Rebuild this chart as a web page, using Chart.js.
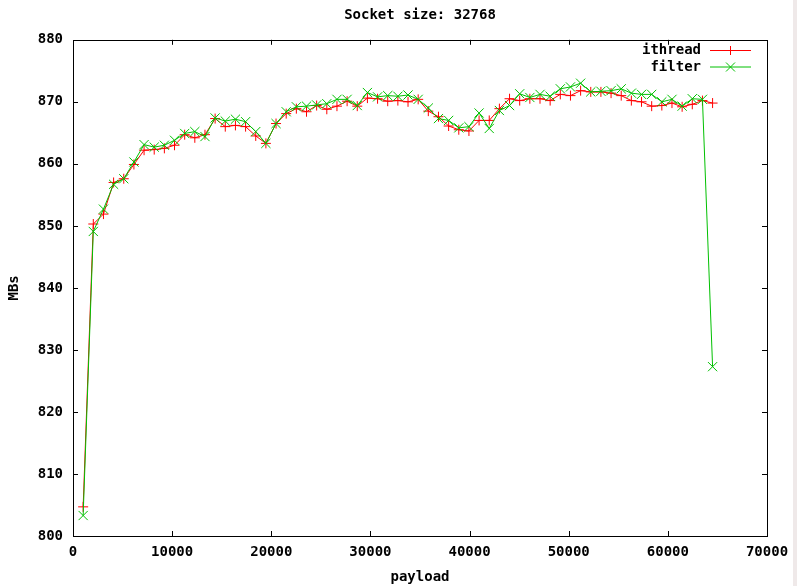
<!DOCTYPE html>
<html>
<head>
<meta charset="utf-8">
<script src="https://cdn.jsdelivr.net/npm/chart.js@4"></script>
<style>
  body { margin: 0; background: #efe9e9; }
  #wrap { width: 793px; height: 586px; background: #fff; }
</style>
</head>
<body>
<div id="wrap"><canvas id="chart" width="793" height="586"></canvas></div>
<script>
// payload sizes (bytes)
const payload = [
  1024, 2048, 3072, 4096, 5120, 6144, 7168, 8192, 9216, 10240,
  11264, 12288, 13312, 14336, 15360, 16384, 17408, 18432, 19456, 20480,
  21504, 22528, 23552, 24576, 25600, 26624, 27648, 28672, 29696, 30720,
  31744, 32768, 33792, 34816, 35840, 36864, 37888, 38912, 39936, 40960,
  41984, 43008, 44032, 45056, 46080, 47104, 48128, 49152, 50176, 51200,
  52224, 53248, 54272, 55296, 56320, 57344, 58368, 59392, 60416, 61440,
  62464, 63488, 64512
];

const ithread = [
  804.7, 850.3, 851.9, 857.0, 857.6, 859.9, 862.2, 862.3, 862.5, 863.0,
  864.7, 864.2, 864.7, 867.3, 866.0, 866.2, 866.0, 864.5, 863.3, 866.5,
  868.1, 868.9, 868.4, 869.4, 868.8, 869.3, 870.1, 869.3, 870.6, 870.5,
  870.1, 870.2, 870.0, 870.4, 868.5, 867.6, 866.1, 865.5, 865.3, 867.0,
  867.0, 868.9, 870.5, 870.2, 870.5, 870.5, 870.2, 871.2, 871.0, 871.8,
  871.6, 871.6, 871.4, 871.0, 870.2, 870.0, 869.3, 869.4, 869.8, 869.2,
  869.6, 870.2, 869.8
];

const filter = [
  803.3, 849.1, 852.7, 856.7, 857.6, 860.3, 863.1, 862.7, 863.0, 863.8,
  864.9, 865.2, 864.4, 867.4, 866.9, 867.2, 866.8, 865.2, 863.3, 866.5,
  868.4, 869.2, 869.3, 869.5, 869.7, 870.4, 870.4, 869.4, 871.5, 870.8,
  871.0, 870.9, 871.1, 870.4, 869.0, 867.3, 867.0, 865.8, 866.0, 868.2,
  865.7, 868.6, 869.4, 871.3, 870.7, 871.2, 870.9, 872.1, 872.4, 873.0,
  871.6, 871.7, 871.8, 872.1, 871.4, 871.2, 871.2, 870.0, 870.4, 869.3,
  870.5, 870.4, 827.3
];

const FONT = '"DejaVu Sans Mono", "Liberation Mono", monospace';

function pts(ys) {
  return payload.map((x, i) => ({ x: x, y: ys[i] }));
}

// gnuplot style frame: full border + inward ticks on every side
const frame = {
  id: 'frame',
  afterDraw(chart) {
    const { ctx, chartArea: a, scales: { x, y } } = chart;
    ctx.save();
    ctx.strokeStyle = '#000';
    ctx.lineWidth = 1;
    ctx.beginPath();
    x.ticks.forEach(t => {
      const px = Math.round(x.getPixelForValue(t.value)) + 0.5;
      if (px <= a.left + 1 || px >= a.right - 1) return;
      ctx.moveTo(px, a.bottom); ctx.lineTo(px, a.bottom - 5);
      ctx.moveTo(px, a.top); ctx.lineTo(px, a.top + 5);
    });
    y.ticks.forEach(t => {
      const py = Math.round(y.getPixelForValue(t.value)) + 0.5;
      if (py <= a.top + 1 || py >= a.bottom - 1) return;
      ctx.moveTo(a.left, py); ctx.lineTo(a.left + 5, py);
      ctx.moveTo(a.right, py); ctx.lineTo(a.right - 5, py);
    });
    ctx.stroke();
    ctx.strokeRect(Math.round(a.left) + 0.5, Math.round(a.top) + 0.5,
      Math.round(a.right - a.left), Math.round(a.bottom - a.top));
    ctx.restore();
  }
};

// key in the top right corner, text left of the sample
const key = {
  id: 'key',
  afterDraw(chart) {
    const { ctx } = chart;
    ctx.save();
    ctx.font = 'bold 14px ' + FONT;
    ctx.textAlign = 'right';
    ctx.textBaseline = 'middle';
    chart.data.datasets.forEach((ds, i) => {
      const yy = 50.5 + i * 16.5;
      ctx.fillStyle = '#000';
      ctx.fillText(ds.label, 701, yy);
      ctx.strokeStyle = ds.borderColor;
      ctx.lineWidth = 1;
      ctx.beginPath();
      ctx.moveTo(710, yy); ctx.lineTo(751, yy);
      const r = 4.5, cx = 730.5;
      if (ds.pointStyle === 'cross') {
        ctx.moveTo(cx, yy - r); ctx.lineTo(cx, yy + r);
      } else {
        ctx.moveTo(cx - r, yy - r); ctx.lineTo(cx + r, yy + r);
        ctx.moveTo(cx - r, yy + r); ctx.lineTo(cx + r, yy - r);
      }
      ctx.stroke();
    });
    ctx.restore();
  }
};

new Chart(document.getElementById('chart'), {
  type: 'line',
  data: {
    datasets: [
      {
        label: 'ithread',
        data: pts(ithread),
        borderColor: '#ff0000',
        backgroundColor: '#ff0000',
        borderWidth: 1,
        pointStyle: 'cross',
        pointRadius: 5,
        pointBorderWidth: 1,
        tension: 0,
        fill: false,
        order: 1
      },
      {
        label: 'filter',
        data: pts(filter),
        borderColor: '#00c000',
        backgroundColor: '#00c000',
        borderWidth: 1,
        pointStyle: 'crossRot',
        pointRadius: 6.5,
        pointBorderWidth: 1,
        tension: 0,
        fill: false,
        order: 0
      }
    ]
  },
  options: {
    responsive: false,
    animation: false,
    layout: { padding: { left: 0, right: 26, top: 0, bottom: 0 } },
    plugins: {
      legend: { display: false },
      tooltip: { enabled: false },
      title: {
        display: true,
        text: 'Socket size: 32768',
        fullSize: false,
        color: '#000',
        font: { family: FONT, size: 14, weight: 'bold', lineHeight: 1.2 },
        padding: { top: 7, bottom: 16 }
      }
    },
    scales: {
      x: {
        type: 'linear',
        min: 0,
        max: 70000,
        grid: { display: false, drawTicks: false },
        border: { display: false },
        ticks: {
          stepSize: 10000,
          padding: 8,
          color: '#000',
          maxRotation: 0,
          font: { family: FONT, size: 14, weight: 'bold' },
          callback: v => String(v)
        },
        title: {
          display: true,
          text: 'payload',
          color: '#000',
          padding: { top: 0, bottom: 0 },
          font: { family: FONT, size: 14, weight: 'bold' }
        },
        afterFit: s => { s.height = 50; s.paddingLeft = 0; s.paddingRight = 0; }
      },
      y: {
        min: 800,
        max: 880,
        grid: { display: false, drawTicks: false },
        border: { display: false },
        ticks: {
          stepSize: 10,
          padding: 10,
          color: '#000',
          font: { family: FONT, size: 14, weight: 'bold' },
          callback: v => String(v)
        },
        title: {
          display: true,
          text: 'MBs',
          color: '#000',
          padding: { top: 6, bottom: 0 },
          font: { family: FONT, size: 14, weight: 'bold' }
        },
        afterFit: s => { s.width = 73; }
      }
    }
  },
  plugins: [frame, key]
});
</script>
</body>
</html>
